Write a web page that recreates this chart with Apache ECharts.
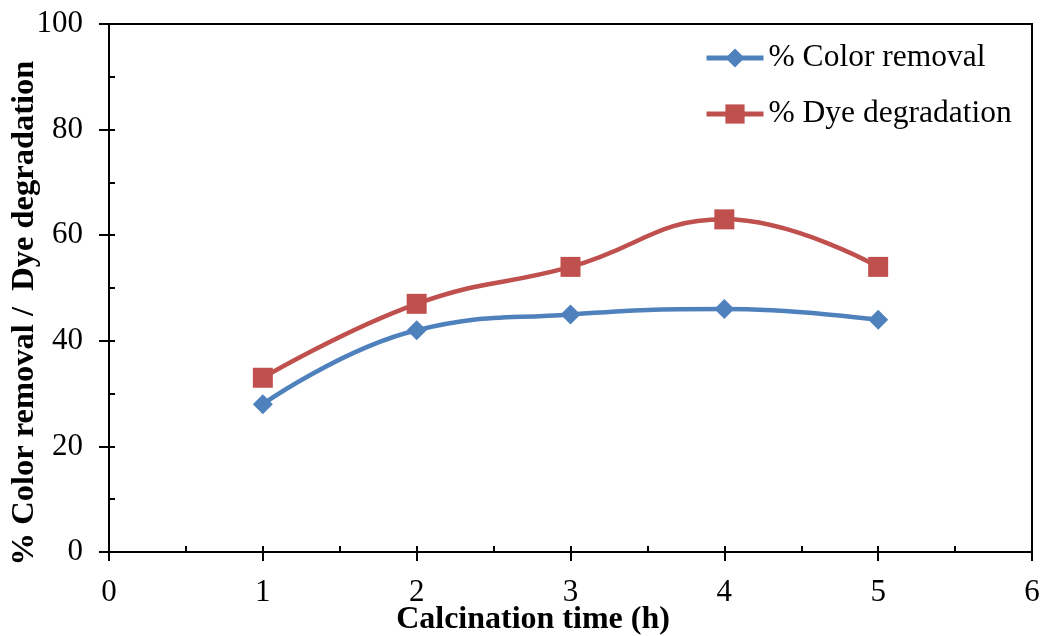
<!DOCTYPE html>
<html>
<head>
<meta charset="utf-8">
<script src="https://cdn.jsdelivr.net/npm/echarts@6/dist/echarts.min.js"></script>
<style>
  html, body { margin: 0; padding: 0; background: #fff; }
  #chart { width: 1044px; height: 636px; }
</style>
</head>
<body>
<div id="chart"></div>
<script>
// Calcination time (h)
const calcinationTime = [1, 2, 3, 4, 5];
// % Color removal
const colorRemoval = [28, 42, 45, 46, 44];
// % Dye degradation
const dyeDegradation = [33, 47, 54, 63, 54];

const xTicks = [0, 1, 2, 3, 4, 5, 6];
const yTicks = [0, 20, 40, 60, 80, 100];

const FONT = '"Liberation Serif", "Times New Roman", serif';

const pairs = (xs, ys) => xs.map((x, i) => [x, ys[i]]);

const chart = echarts.init(document.getElementById('chart'), null, { renderer: 'canvas' });

const axisLine = { show: true, lineStyle: { color: '#000', width: 2 } };

chart.setOption({
  animation: false,
  backgroundColor: '#fff',
  textStyle: { fontFamily: FONT },
  grid: {
    left: 109, top: 24, right: 12, bottom: 84,
    show: true, borderColor: '#000', borderWidth: 2, backgroundColor: 'transparent'
  },
  legend: {
    orient: 'vertical',
    left: 704, top: 42,
    padding: 0,
    itemWidth: 57, itemHeight: 24,
    itemGap: 24,
    lineStyle: { width: 5 },
    textStyle: { fontFamily: FONT, fontSize: 31.5, color: '#000' },
    data: ['% Color removal', '% Dye degradation']
  },
  xAxis: [
    {
      type: 'value', min: xTicks[0], max: xTicks[xTicks.length - 1], interval: 1,
      axisLine: axisLine,
      axisTick: { show: true, inside: false, length: 9, lineStyle: { color: '#000', width: 2 } },
      axisLabel: { fontFamily: FONT, fontSize: 31, color: '#000', margin: 25 },
      splitLine: { show: false }
    },
    {
      type: 'value', min: xTicks[0], max: xTicks[xTicks.length - 1], interval: 1,
      position: 'bottom',
      axisLine: { show: false },
      axisTick: { show: true, inside: true, length: 6, lineStyle: { color: '#000', width: 2 } },
      minorTick: { show: true, splitNumber: 2, length: 6, lineStyle: { color: '#000', width: 2 } },
      axisLabel: { show: false },
      splitLine: { show: false }
    }
  ],
  yAxis: [
    {
      type: 'value', min: yTicks[0], max: yTicks[yTicks.length - 1], interval: 20,
      axisLine: axisLine,
      axisTick: { show: true, inside: false, length: 10, lineStyle: { color: '#000', width: 2 } },
      axisLabel: { fontFamily: FONT, fontSize: 31, color: '#000', margin: 26 },
      splitLine: { show: false }
    },
    {
      type: 'value', min: yTicks[0], max: yTicks[yTicks.length - 1], interval: 20,
      position: 'left',
      axisLine: { show: false },
      axisTick: { show: true, inside: true, length: 6, lineStyle: { color: '#000', width: 2 } },
      minorTick: { show: true, splitNumber: 2, length: 6, lineStyle: { color: '#000', width: 2 } },
      axisLabel: { show: false },
      splitLine: { show: false }
    }
  ],
  series: [
    {
      name: '% Color removal',
      type: 'line',
      smooth: 0.45,
      data: pairs(calcinationTime, colorRemoval),
      symbol: 'diamond', symbolSize: 20,
      lineStyle: { color: '#4F81BD', width: 4.5 },
      itemStyle: { color: '#4F81BD' },
      z: 3
    },
    {
      name: '% Dye degradation',
      type: 'line',
      smooth: 0.45,
      data: pairs(calcinationTime, dyeDegradation),
      symbol: 'rect', symbolSize: 20,
      lineStyle: { color: '#C0504D', width: 4.5 },
      itemStyle: { color: '#C0504D' },
      z: 4
    }
  ],
  graphic: [
    {
      type: 'text',
      x: 533, y: 620,
      style: {
        text: 'Calcination time (h)', fontFamily: FONT, fontSize: 32, fontWeight: 'bold',
        fill: '#000', align: 'center', verticalAlign: 'middle'
      }
    },
    {
      type: 'text',
      x: 25, y: 313, rotation: Math.PI / 2,
      style: {
        text: '% Color removal /  Dye degradation', fontFamily: FONT, fontSize: 32.5, fontWeight: 'bold',
        fill: '#000', align: 'center', verticalAlign: 'middle'
      }
    }
  ]
});
</script>
</body>
</html>
